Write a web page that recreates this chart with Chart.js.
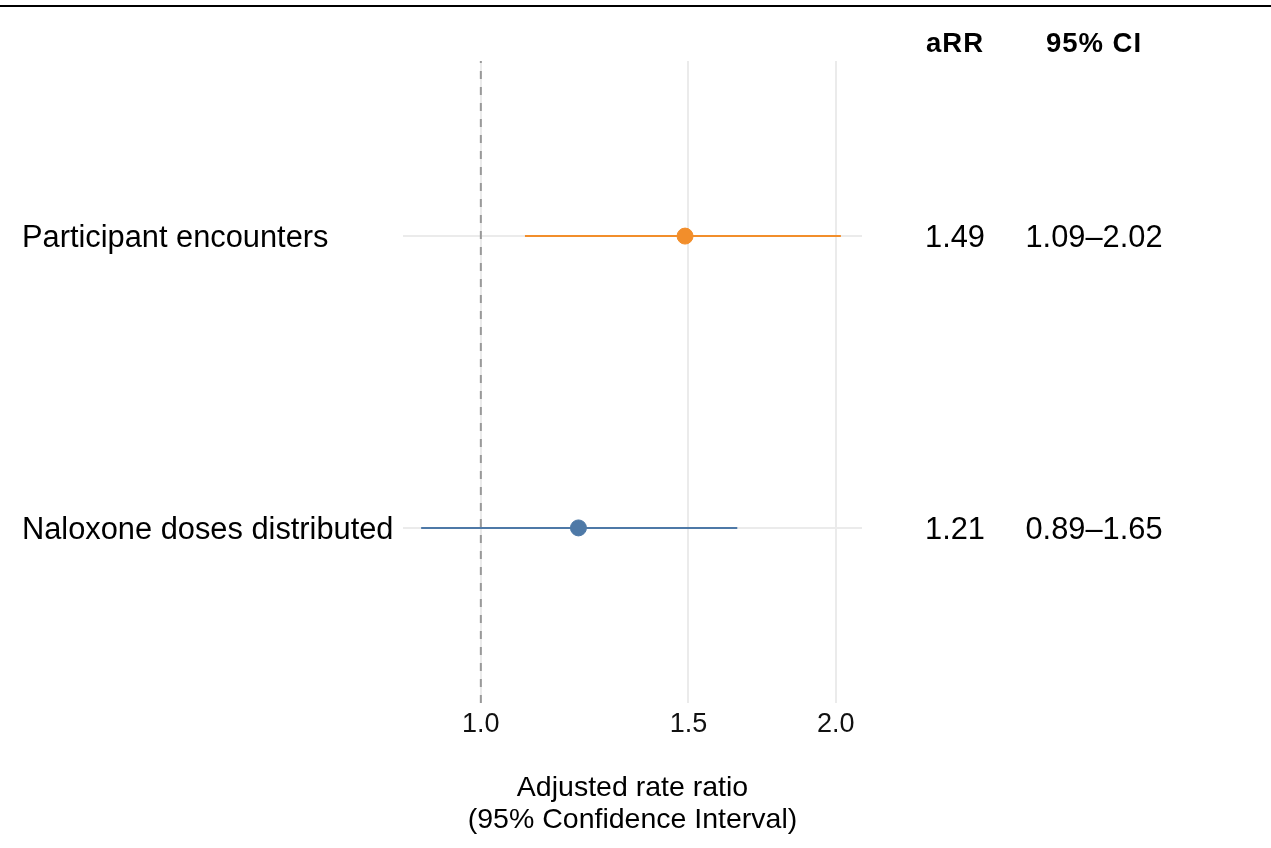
<!DOCTYPE html>
<html>
<head>
<meta charset="utf-8">
<script src="https://cdn.jsdelivr.net/npm/chart.js@4"></script>
<style>
  html, body { margin: 0; padding: 0; background: #fff; }
  #wrap { width: 1271px; height: 848px; }
</style>
</head>
<body>
<div id="wrap"><canvas id="forest" width="1271" height="848"></canvas></div>
<script>
// data
const outcomes = ['Participant encounters', 'Naloxone doses distributed'];
const aRR = [1.49, 1.21];
const ciLow = [1.09, 0.89];
const ciHigh = [2.02, 1.65];
const xTicks = [1.0, 1.5, 2.0];
const refValue = 1.0;

const rowColors = ['#F28E2B', '#4E79A7'];
const FONT = '"Liberation Sans", Arial, Helvetica, sans-serif';

// first outcome on top
const rowY = outcomes.map((_, i) => outcomes.length - i);
const yMin = 0.4, yMax = outcomes.length + 0.6;

const datasets = [];
outcomes.forEach((name, i) => {
  datasets.push({
    label: name + ' CI',
    data: [{ x: ciLow[i], y: rowY[i] }, { x: ciHigh[i], y: rowY[i] }],
    showLine: true,
    borderColor: rowColors[i],
    borderWidth: 2,
    pointRadius: 0,
    order: 2
  });
  datasets.push({
    label: name,
    data: [{ x: aRR[i], y: rowY[i] }],
    backgroundColor: rowColors[i],
    borderColor: rowColors[i],
    pointRadius: 8,
    pointHoverRadius: 8,
    order: 1
  });
});
// reference line at 1
datasets.push({
  label: 'ref',
  data: [{ x: refValue, y: yMin }, { x: refValue, y: yMax }],
  showLine: true,
  borderColor: '#999999',
  borderWidth: 2,
  borderDash: [8, 8],
  pointRadius: 0,
  order: 3
});

// text columns, row labels and top rule
const textPlugin = {
  id: 'forestText',
  afterDraw(chart) {
    const ctx = chart.ctx;
    const y = chart.scales.y;
    ctx.save();

    ctx.strokeStyle = '#000';
    ctx.lineWidth = 2;
    ctx.beginPath();
    ctx.moveTo(0, 6);
    ctx.lineTo(chart.width, 6);
    ctx.stroke();

    ctx.fillStyle = '#000';
    ctx.textBaseline = 'alphabetic';

    ctx.font = 'bold 27.5px ' + FONT;
    ctx.letterSpacing = '1px';
    ctx.textAlign = 'center';
    ctx.fillText('aRR', 955, 52);
    ctx.fillText('95% CI', 1094, 52);
    ctx.letterSpacing = '0px';

    const fs = 30.8;
    ctx.font = fs + 'px ' + FONT;
    outcomes.forEach((name, i) => {
      const py = y.getPixelForValue(rowY[i]) + fs * 0.358;
      ctx.textAlign = 'left';
      ctx.fillText(name, 22, py);
      ctx.textAlign = 'center';
      ctx.fillText(aRR[i].toFixed(2), 955, py);
      ctx.fillText(ciLow[i].toFixed(2) + '\u2013' + ciHigh[i].toFixed(2), 1094, py);
    });
    ctx.restore();
  }
};

new Chart(document.getElementById('forest').getContext('2d'), {
  type: 'scatter',
  data: { datasets },
  options: {
    responsive: false,
    animation: false,
    layout: { padding: { left: 403, right: 409, top: 61, bottom: 0 } },
    scales: {
      x: {
        type: 'logarithmic',
        min: 0.859,
        max: 2.105,
        afterBuildTicks: s => { s.ticks = xTicks.map(v => ({ value: v })); },
        afterFit: s => { s.height = 145; },
        grid: { color: '#EBEBEB', lineWidth: 2, drawTicks: false },
        border: { display: false },
        ticks: {
          padding: 8,
          color: '#111',
          font: { family: FONT, size: 27, lineHeight: 1 },
          callback: v => Number(v).toFixed(1)
        },
        title: {
          display: true,
          text: ['Adjusted rate ratio', '(95% Confidence Interval)'],
          color: '#000',
          font: { family: FONT, size: 28.5, lineHeight: 32 / 28.5 },
          padding: { top: 0, bottom: 12 }
        }
      },
      y: {
        min: yMin,
        max: yMax,
        afterBuildTicks: s => { s.ticks = rowY.map(v => ({ value: v })); },
        afterFit: s => { s.width = 0; },
        grid: { color: '#EBEBEB', lineWidth: 2, drawTicks: false },
        border: { display: false },
        ticks: { display: false }
      }
    },
    plugins: {
      legend: { display: false },
      tooltip: { enabled: false }
    }
  },
  plugins: [textPlugin]
});
</script>
</body>
</html>
